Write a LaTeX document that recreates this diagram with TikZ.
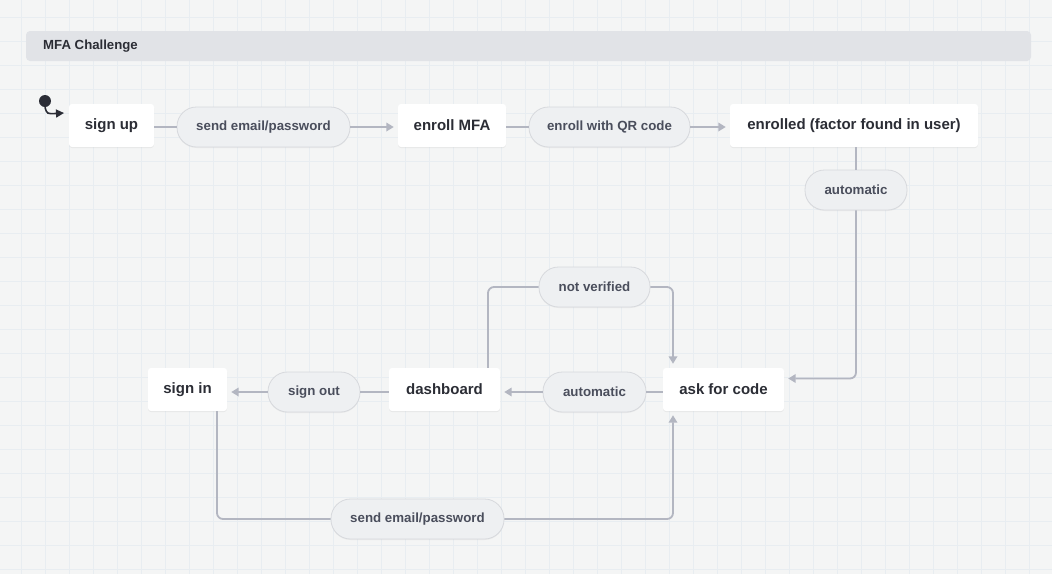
\documentclass[tikz,border=0pt]{standalone}
\usepackage{fontspec}
\setmainfont{Liberation Sans}
\usetikzlibrary{arrows.meta,shadows,calc}
\definecolor{bgc}{HTML}{F4F5F5}
\definecolor{gridc}{HTML}{E8EDF1}
\definecolor{headc}{HTML}{E1E3E7}
\definecolor{txtc}{HTML}{2B2D35}
\definecolor{pilltxt}{HTML}{4A4E5C}
\definecolor{pillfill}{HTML}{EEF0F2}
\definecolor{pillline}{HTML}{D7D9DD}
\definecolor{edgec}{HTML}{B3B6C1}
\definecolor{dotc}{HTML}{2B2D36}
\tikzset{
  statebox/.style={draw=none, fill=white, rounded corners=3pt, minimum height=43pt,
    inner sep=0pt, text=txtc, font=\bfseries\fontsize{15}{18}\selectfont,
    drop shadow={opacity=0.12, shadow xshift=0pt, shadow yshift=-1pt}},
  pill/.style={draw=pillline, line width=0.8pt, fill=pillfill, rounded corners=19.5pt,
    minimum height=40pt, inner sep=0pt, text=pilltxt, font=\bfseries\fontsize{13.3}{16}\selectfont,
    drop shadow={opacity=0.08, shadow xshift=0pt, shadow yshift=-1pt}},
  conn/.style={draw=edgec, line width=1.8pt, rounded corners=6pt},
  arr/.style={conn, -{Triangle[length=7.5pt,width=8.5pt]}, shorten >=4pt},
}
\begin{document}
\begin{tikzpicture}[x=1pt,y=-1pt]
\fill[bgc] (0,0) rectangle (1052,574);
\useasboundingbox (0,0) rectangle (1052,574);
\foreach \i in {0,...,44} {\draw[gridc, line width=0.9pt] (-2.7+24*\i,0) -- (-2.7+24*\i,574);}
\foreach \j in {0,...,23} {\draw[gridc, line width=0.9pt] (0,17.3+24*\j) -- (1052,17.3+24*\j);}
% header
\fill[headc, rounded corners=4pt] (26,31) rectangle (1031,61);
\node[anchor=west, text=txtc, font=\bfseries\fontsize{13.2}{16}\selectfont, inner sep=0pt] (title) at (43,46.5) {MFA Challenge};
% initial state
\node[circle, fill=dotc, minimum size=12pt, inner sep=0pt] (init) at (45,101) {};
% states
\node[statebox, minimum width=85pt] (signup) at (111.5,125.5) {sign up};
\node[statebox, minimum width=108pt] (enroll) at (452,125.5) {enroll MFA};
\node[statebox, minimum width=248pt] (enrolled) at (854,125.5) {enrolled (factor found in user)};
\node[statebox, minimum width=121pt] (ask) at (723.5,389.5) {ask for code};
\node[statebox, minimum width=111pt] (dash) at (444.5,389.5) {dashboard};
\node[statebox, minimum width=79pt] (signin) at (187.5,389.5) {sign in};
% pills
\node[pill, minimum width=173pt] (p1) at (263.5,127) {send email/password};
\node[pill, minimum width=161pt] (p2) at (609.5,127) {enroll with QR code};
\node[pill, minimum width=102pt] (p3) at (856,190) {automatic};
\node[pill, minimum width=111pt] (p4) at (594.5,287) {not verified};
\node[pill, minimum width=103pt] (p5) at (594.5,392) {automatic};
\node[pill, minimum width=92pt] (p6) at (314,392) {sign out};
\node[pill, minimum width=173pt] (p7) at (417.5,519) {send email/password};
% initial arrow
\draw[dotc, line width=1.6pt, -{Triangle[length=8pt,width=8pt]}] (init.south) .. controls (47,114) .. (64,113);
% connectors
\draw[conn] (signup.east|-p1.west) -- (p1.west);
\draw[arr] (p1.east) -- (enroll.west|-p1.east);
\draw[conn] (enroll.east|-p2.west) -- (p2.west);
\draw[arr] (p2.east) -- (enrolled.west|-p2.east);
\draw[conn] (p3|-enrolled.south) -- (p3.north);
\draw[arr] (p3.south) |- ([yshift=11pt]ask.east);
\draw[conn] (ask.west|-p5.east) -- (p5.east);
\draw[arr] (p5.west) -- (dash.east|-p5.west);
\draw[conn] (dash.west|-p6.east) -- (p6.east);
\draw[arr] (p6.west) -- (signin.east|-p6.west);
\draw[conn] ([xshift=43.5pt]dash.north) |- (p4.west);
\draw[arr] (p4.east) -| ([xshift=-50.5pt]ask.north);
\draw[conn] ([xshift=29.5pt]signin.south) |- (p7.west);
\draw[arr] (p7.east) -| ([xshift=-50.5pt]ask.south);
\end{tikzpicture}
\end{document}
